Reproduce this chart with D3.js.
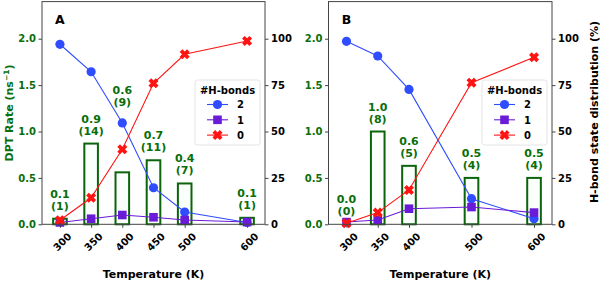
<!DOCTYPE html>
<html>
<head>
<meta charset="utf-8">
<script src="https://cdn.jsdelivr.net/npm/d3@7"></script>
<style>
  body { margin: 0; background: #fff; }
  text { font-family: "DejaVu Sans", sans-serif; font-weight: bold; }
</style>
</head>
<body>
<script>
// data
const tempsA = [300, 350, 400, 450, 500, 600];
const rateA = [0.06, 0.87, 0.56, 0.69, 0.44, 0.07];
const rateTextA = ["0.1", "0.9", "0.6", "0.7", "0.4", "0.1"];
const countTextA = ["(1)", "(14)", "(9)", "(11)", "(7)", "(1)"];
const labelAtA = [0.06, 0.87, 1.18, 0.69, 0.44, 0.07];
const hb2A = [97, 82.2, 54.6, 19.7, 6.6, 1.0];
const hb1A = [1.0, 3.0, 5.0, 3.8, 2.3, 1.2];
const hb0A = [2.2, 14.3, 40.4, 76, 91.6, 98.8];

const tempsB = [300, 350, 400, 500, 600];
const rateB = [0.0, 1.0, 0.63, 0.5, 0.5];
const rateTextB = ["0.0", "1.0", "0.6", "0.5", "0.5"];
const countTextB = ["(0)", "(8)", "(5)", "(4)", "(4)"];
const labelAtB = [0.0, 1.0, 0.63, 0.5, 0.5];
const hb2B = [98.6, 90.7, 72.7, 13.8, 3.0];
const hb1B = [1.2, 2.3, 8.4, 9.3, 6.3];
const hb0B = [0.6, 6.3, 18.5, 76.3, 90];

const rateTicks = [0, 0.5, 1.0, 1.5, 2.0];
const pctTicks = [0, 25, 50, 75, 100];
const legendKeys = ["2", "1", "0"];

const W = 602, H = 282;
const plotTop = 1.6, plotBottom = 224.3;
const green = "#0a6e0a", barEdge = "#0b640b";
const blue = "#2f4dff", purple = "#6a1bd8", red = "#ff1414";

const svg = d3.select("body").append("svg")
    .attr("width", W)
    .attr("height", H);

// filled "X" marker like matplotlib's
function xMarker(r, w) {
  const pts = [[-w,-r],[w,-r],[w,-w],[r,-w],[r,w],[w,w],[w,r],[-w,r],[-w,w],[-r,w],[-r,-w],[-w,-w]];
  const c = Math.SQRT1_2;
  return "M" + pts.map(p => [(p[0]-p[1])*c, (p[0]+p[1])*c].map(v => v.toFixed(2)).join(",")).join("L") + "Z";
}

function marker(g, kind, x, y, color) {
  if (kind === "2") {
    g.append("circle").attr("cx", x).attr("cy", y).attr("r", 4.6).attr("fill", color);
  } else if (kind === "1") {
    g.append("rect").attr("x", x - 4.3).attr("y", y - 4.3).attr("width", 8.6).attr("height", 8.6).attr("fill", color);
  } else {
    g.append("path").attr("d", xMarker(5.2, 1.9)).attr("transform", `translate(${x},${y})`).attr("fill", color);
  }
}

function drawPanel(opt) {
  const x = d3.scaleLinear().domain([271.25, 628.75]).range([opt.left, opt.right]);
  const yRate = d3.scaleLinear().domain([0, 2.4]).range([plotBottom, plotTop]);
  const yPct = d3.scaleLinear().domain([0, 120]).range([plotBottom, plotTop]);
  const g = svg.append("g");
  const bw = x(312.5) - x(287.5);

  // bars
  g.selectAll("rect.bar").data(opt.temps).enter().append("rect")
      .attr("class", "bar")
      .attr("x", d => x(d) - bw / 2 + 1)
      .attr("y", (d, i) => yRate(opt.rate[i]))
      .attr("width", bw - 2)
      .attr("height", (d, i) => plotBottom - yRate(opt.rate[i]))
      .attr("fill", "#fbfffb")
      .attr("stroke", barEdge)
      .attr("stroke-width", 2);

  // bar labels
  opt.temps.forEach((t, i) => {
    const yy = yRate(opt.labelAt[i]);
    g.append("text").attr("x", x(t)).attr("y", yy - 25 + 4)
        .attr("text-anchor", "middle").attr("font-size", 11).attr("fill", green)
        .text(opt.rateText[i]);
    g.append("text").attr("x", x(t)).attr("y", yy - 13 + 4)
        .attr("text-anchor", "middle").attr("font-size", 11).attr("fill", green)
        .text(opt.countText[i]);
  });

  // lines
  const series = [["2", opt.hb2, blue], ["1", opt.hb1, purple], ["0", opt.hb0, red]];
  series.forEach(([k, vals, col]) => {
    const line = d3.line().x((d, i) => x(opt.temps[i])).y(d => yPct(d));
    g.append("path").datum(vals).attr("d", line)
        .attr("fill", "none").attr("stroke", col).attr("stroke-width", 1.1);
    vals.forEach((v, i) => marker(g, k, x(opt.temps[i]), yPct(v), col));
  });

  // frame
  g.append("rect").attr("x", opt.left).attr("y", plotTop)
      .attr("width", opt.right - opt.left).attr("height", plotBottom - plotTop)
      .attr("fill", "none").attr("stroke", "#444").attr("stroke-width", 1);

  // axes
  const xAxis = g.append("g").attr("transform", `translate(0,${plotBottom})`)
      .call(d3.axisBottom(x).tickValues(opt.temps).tickSize(3.5).tickFormat(d3.format("d")));
  xAxis.select(".domain").remove();
  xAxis.selectAll("line").attr("stroke", "#444");
  xAxis.selectAll("text")
      .attr("font-size", 10).attr("fill", "#000")
      .attr("text-anchor", "end")
      .attr("transform", "translate(5,6) rotate(-45)")
      .attr("dy", "0.35em").attr("y", 6);

  const yl = g.append("g").attr("transform", `translate(${opt.left},0)`)
      .call(d3.axisLeft(yRate).tickValues(rateTicks).tickSize(3.5).tickFormat(d3.format(".1f")));
  yl.select(".domain").remove();
  yl.selectAll("line").attr("stroke", "#444");
  yl.selectAll("text").attr("font-size", 10).attr("fill", green).attr("x", -6);

  const yr = g.append("g").attr("transform", `translate(${opt.right},0)`)
      .call(d3.axisRight(yPct).tickValues(pctTicks).tickSize(3.5));
  yr.select(".domain").remove();
  yr.selectAll("line").attr("stroke", "#444");
  yr.selectAll("text").attr("font-size", 10).attr("fill", "#000").attr("x", 6);

  // panel letter
  g.append("text").attr("x", x(300)).attr("y", 24)
      .attr("text-anchor", "middle").attr("font-size", 12.5).attr("fill", "#000").text(opt.letter);

  // x label
  g.append("text").attr("x", (opt.left + opt.right) / 2).attr("y", 278)
      .attr("text-anchor", "middle").attr("font-size", 11).attr("fill", "#000")
      .text("Temperature (K)");

  // legend
  const lg = g.append("g").attr("transform", `translate(${opt.right - 70},80)`);
  lg.append("rect").attr("x", 0).attr("y", 0).attr("width", 65).attr("height", 65)
      .attr("rx", 2.5).attr("fill", "#fff").attr("stroke", "#ddd").attr("stroke-width", 0.8);
  lg.append("text").attr("x", 32.5).attr("y", 14).attr("text-anchor", "middle")
      .attr("font-size", 10).attr("fill", "#000").text("#H-bonds");
  legendKeys.forEach((k, i) => {
    const yy = 24.5 + i * 15.3;
    const col = series.find(s => s[0] === k)[2];
    lg.append("line").attr("x1", 12).attr("x2", 33).attr("y1", yy).attr("y2", yy)
        .attr("stroke", col).attr("stroke-width", 1.1);
    marker(lg, k, 22.5, yy, col);
    lg.append("text").attr("x", 42).attr("y", yy + 3.8).attr("font-size", 10)
        .attr("fill", "#000").text(k);
  });
}

drawPanel({letter: "A", left: 42, right: 265, temps: tempsA, rate: rateA,
  rateText: rateTextA, countText: countTextA, labelAt: labelAtA,
  hb2: hb2A, hb1: hb1A, hb0: hb0A});
drawPanel({letter: "B", left: 328.5, right: 552, temps: tempsB, rate: rateB,
  rateText: rateTextB, countText: countTextB, labelAt: labelAtB,
  hb2: hb2B, hb1: hb1B, hb0: hb0B});

// axis titles
const rl = svg.append("text").attr("transform", `translate(13,113) rotate(-90)`)
    .attr("text-anchor", "middle").attr("font-size", 11).attr("fill", green);
rl.append("tspan").text("DPT Rate (ns");
rl.append("tspan").attr("font-size", 7.5).attr("dy", -4).text("−1");
rl.append("tspan").attr("dy", 4).text(")");

svg.append("text").attr("transform", `translate(598,112) rotate(-90)`)
    .attr("text-anchor", "middle").attr("font-size", 11).attr("fill", "#000")
    .text("H-bond state distribution (%)");
</script>
</body>
</html>
